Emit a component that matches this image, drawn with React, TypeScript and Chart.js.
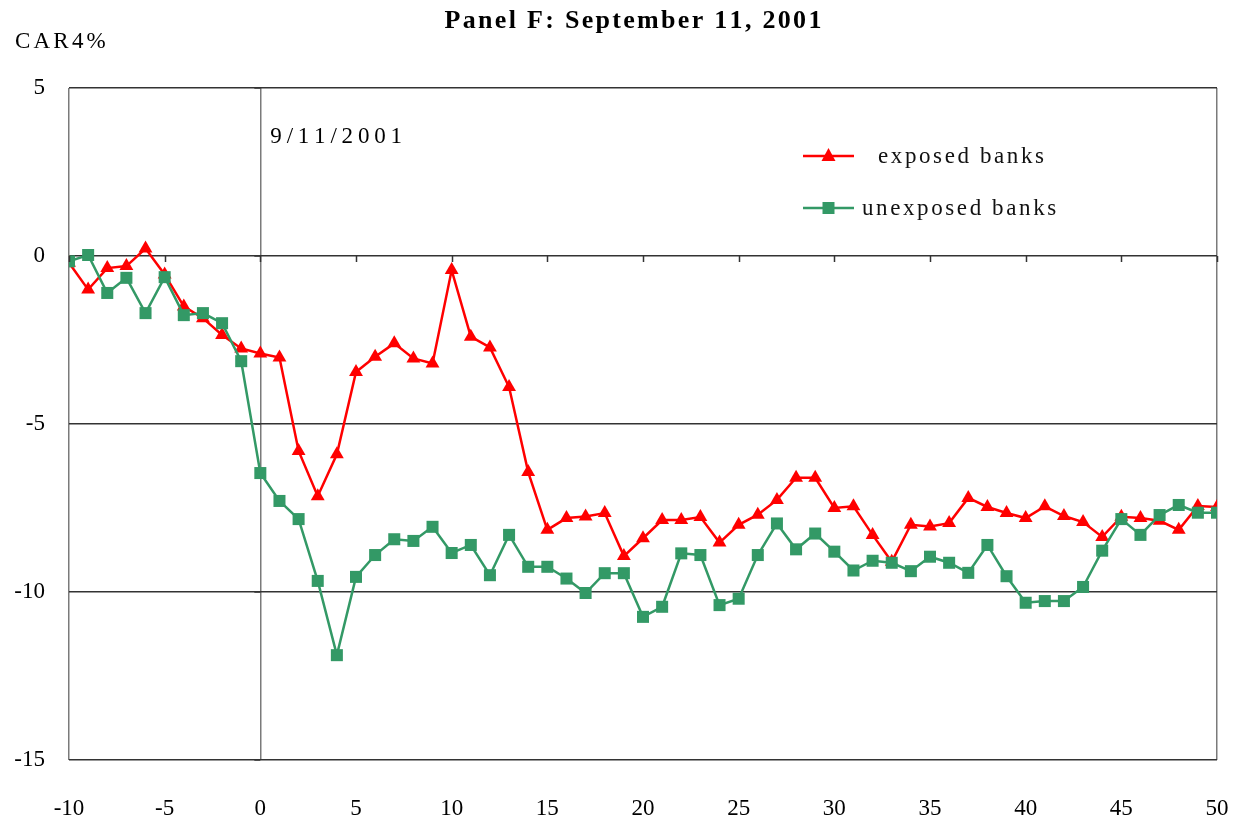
import React, { useEffect, useRef } from "react";
import { Chart, registerables } from "chart.js";

Chart.register(...registerables);

const TITLE = "Panel F: September 11, 2001";
const Y_LABEL = "CAR4%";
const EVENT_LABEL = "9/11/2001";
const SERIES_NAMES = ["exposed banks", "unexposed banks"];

const DAYS = [
  -10, -9, -8, -7, -6, -5, -4, -3, -2, -1, 0, 1, 2, 3, 4, 5, 6, 7, 8, 9, 10,
  11, 12, 13, 14, 15, 16, 17, 18, 19, 20, 21, 22, 23, 24, 25, 26, 27, 28, 29, 30,
  31, 32, 33, 34, 35, 36, 37, 38, 39, 40, 41, 42, 43, 44, 45, 46, 47, 48, 49, 50,
];

const EXPOSED = [
  -0.2, -1.0, -0.36, -0.3, 0.22, -0.55, -1.5, -1.85, -2.35, -2.75, -2.9,
  -3.02, -5.8, -7.15, -5.9, -3.45, -3.0, -2.6, -3.05, -3.2, -0.42,
  -2.4, -2.72, -3.9, -6.43, -8.15, -7.8, -7.75, -7.65, -8.93, -8.4,
  -7.86, -7.86, -7.77, -8.53, -8.0, -7.7, -7.26, -6.6, -6.6, -7.5,
  -7.45, -8.3, -9.1, -8.0, -8.05, -7.95, -7.2, -7.47, -7.65, -7.8,
  -7.45, -7.74, -7.92, -8.36, -7.76, -7.8, -7.88, -8.15, -7.44, -7.47,
];

const UNEXPOSED = [
  -0.16, 0.03, -1.1, -0.65, -1.7, -0.63, -1.76, -1.7, -2.0, -3.13, -6.46,
  -7.29, -7.83, -9.67, -11.88, -9.55, -8.9, -8.43, -8.48, -8.06, -8.84,
  -8.6, -9.5, -8.3, -9.25, -9.25, -9.6, -10.03, -9.44, -9.44, -10.74,
  -10.44, -8.85, -8.9, -10.39, -10.2, -8.9, -7.96, -8.73, -8.26, -8.8,
  -9.36, -9.07, -9.13, -9.38, -8.95, -9.13, -9.43, -8.6, -9.53, -10.32,
  -10.27, -10.27, -9.85, -8.77, -7.83, -8.3, -7.71, -7.41, -7.64, -7.64,
];

const RED = "#FF0000";
const GREEN = "#339966";
const FONT = '"Liberation Serif", "DejaVu Serif", serif';

function spacedText(
  ctx: CanvasRenderingContext2D,
  s: string,
  x: number,
  y: number,
  spacing: number,
  align: "left" | "center"
) {
  const chars = Array.from(s);
  const widths = chars.map((c) => ctx.measureText(c).width);
  const total = widths.reduce((a, b) => a + b, 0) + spacing * (chars.length - 1);
  let cx = align === "center" ? x - total / 2 : x;
  ctx.textAlign = "left";
  chars.forEach((c, i) => {
    ctx.fillText(c, cx, y);
    cx += widths[i] + spacing;
  });
}

const annotationPlugin = {
  id: "annotations",
  afterDraw(chart: any) {
    const ctx = chart.ctx as CanvasRenderingContext2D;
    const area = chart.chartArea;
    const xs = chart.scales.x;
    const ys = chart.scales.y;
    ctx.save();

    ctx.strokeStyle = "#333";
    ctx.lineWidth = 1.5;
    const y0 = ys.getPixelForValue(0);
    const x0 = xs.getPixelForValue(0);
    for (let v = -10; v <= 50; v += 5) {
      const px = Math.round(xs.getPixelForValue(v)) + 0.5;
      ctx.beginPath();
      ctx.moveTo(px, y0);
      ctx.lineTo(px, y0 + 6);
      ctx.stroke();
    }
    for (let v = -15; v <= 5; v += 5) {
      const py = ys.getPixelForValue(v);
      ctx.beginPath();
      ctx.moveTo(x0 - 6, py);
      ctx.lineTo(x0, py);
      ctx.stroke();
    }

    ctx.fillStyle = "#000";
    ctx.font = `bold 26px ${FONT}`;
    ctx.textBaseline = "middle";
    spacedText(ctx, TITLE, 633, 21, 2.3, "center");

    ctx.font = `normal 23px ${FONT}`;
    ctx.textBaseline = "alphabetic";
    spacedText(ctx, Y_LABEL, 15, 48, 3.2, "left");
    spacedText(ctx, EVENT_LABEL, x0 + 10, area.top + 55, 4.8, "left");

    const lx1 = area.left + 734;
    const lx2 = lx1 + 51;
    const lcx = (lx1 + lx2) / 2;
    const rows = [
      { y: area.top + 68, color: RED, shape: "tri", label: SERIES_NAMES[0], tx: lx2 + 24 },
      { y: area.top + 120, color: GREEN, shape: "sq", label: SERIES_NAMES[1], tx: lx2 + 8 },
    ];
    rows.forEach((r) => {
      ctx.strokeStyle = r.color;
      ctx.fillStyle = r.color;
      ctx.lineWidth = 2.5;
      ctx.beginPath();
      ctx.moveTo(lx1, r.y);
      ctx.lineTo(lx2, r.y);
      ctx.stroke();
      ctx.beginPath();
      if (r.shape === "tri") {
        ctx.moveTo(lcx, r.y - 8);
        ctx.lineTo(lcx + 7, r.y + 5);
        ctx.lineTo(lcx - 7, r.y + 5);
        ctx.closePath();
      } else {
        ctx.rect(lcx - 6, r.y - 6, 12, 12);
      }
      ctx.fill();
      ctx.fillStyle = "#111";
      ctx.font = `normal 23px ${FONT}`;
      ctx.textBaseline = "middle";
      spacedText(ctx, r.label, r.tx, r.y + 1, 2.6, "left");
    });

    ctx.restore();
  },
};

export default function App() {
  const ref = useRef<HTMLCanvasElement | null>(null);

  useEffect(() => {
    if (!ref.current) return;
    const chart = new Chart(ref.current, {
      type: "line",
      data: {
        labels: DAYS,
        datasets: [
          {
            label: SERIES_NAMES[0],
            data: DAYS.map((d, i) => ({ x: d, y: EXPOSED[i] })),
            borderColor: RED,
            backgroundColor: RED,
            borderWidth: 2.5,
            pointStyle: "triangle",
            pointRadius: 8,
            pointBorderWidth: 0,
            tension: 0,
            order: 1,
          },
          {
            label: SERIES_NAMES[1],
            data: DAYS.map((d, i) => ({ x: d, y: UNEXPOSED[i] })),
            borderColor: GREEN,
            backgroundColor: GREEN,
            borderWidth: 2.5,
            pointStyle: "rect",
            pointRadius: 8.5,
            pointBorderWidth: 0,
            tension: 0,
            order: 0,
          },
        ],
      },
      options: {
        animation: false,
        responsive: false,
        devicePixelRatio: 1,
        layout: { padding: { top: 88, left: 0, right: 27, bottom: 0 } },
        plugins: {
          legend: { display: false },
          title: { display: false },
          tooltip: { enabled: false },
        },
        scales: {
          x: {
            type: "linear",
            min: -10,
            max: 50,
            afterFit: (s: any) => {
              s.height = 69;
              s.paddingLeft = 0;
              s.paddingRight = 0;
            },
            border: { display: false },
            grid: {
              drawTicks: false,
              lineWidth: 1.5,
              color: (c: any) =>
                c.tick && (c.tick.value === 0 || c.tick.value === -10 || c.tick.value === 50)
                  ? "#7a7a7a"
                  : "rgba(0,0,0,0)",
            },
            ticks: {
              stepSize: 5,
              padding: 35,
              color: "#000",
              font: { family: FONT, size: 23, weight: "normal" },
              maxRotation: 0,
            },
          },
          y: {
            min: -15,
            max: 5,
            afterFit: (s: any) => {
              s.width = 69;
            },
            border: { display: false },
            grid: {
              drawTicks: false,
              lineWidth: 1.5,
              color: "#333",
            },
            ticks: {
              stepSize: 5,
              padding: 24,
              color: "#000",
              font: { family: FONT, size: 23, weight: "normal" },
            },
          },
        },
      },
      plugins: [annotationPlugin],
    });
    let alive = true;
    const fonts: any = (document as any).fonts;
    if (fonts && fonts.load) {
      Promise.all([
        fonts.load(`normal 23px ${FONT}`),
        fonts.load(`bold 26px ${FONT}`),
      ])
        .then(() => {
          if (alive) chart.update();
        })
        .catch(() => {});
    }
    return () => {
      alive = false;
      chart.destroy();
    };
  }, []);

  return (
    <div style={{ position: "absolute", left: 0, top: 0, width: 1244, height: 829, background: "#fff" }}>
      <span
        style={{
          position: "absolute",
          left: 0,
          top: 0,
          fontFamily: FONT,
          fontSize: 23,
          color: "transparent",
          pointerEvents: "none",
        }}
      >
        CAR4% <b>Panel</b>
      </span>
      <canvas ref={ref} width={1244} height={829} style={{ position: "absolute", left: 0, top: 0 }} />
    </div>
  );
}
